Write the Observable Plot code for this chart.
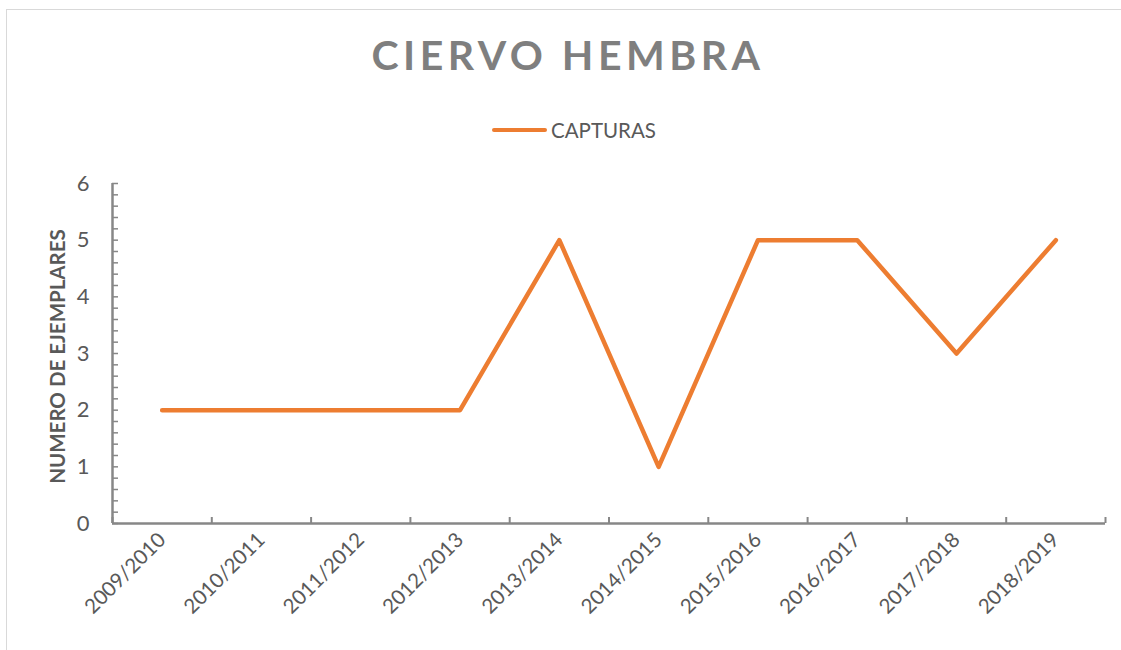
<!DOCTYPE html>
<html>
<head>
<meta charset="utf-8">
<script src="https://cdn.jsdelivr.net/npm/d3@7"></script>
<script src="https://cdn.jsdelivr.net/npm/@observablehq/plot@0.6"></script>
<style>
  html, body { margin: 0; padding: 0; background: #fff; }
  #wrap { position: relative; width: 1121px; height: 650px; overflow: hidden; font-family: Lato, "Open Sans", sans-serif; }
  #border { position: absolute; left: 6px; top: 9px; width: 1130px; height: 660px; border: 1.5px solid #d9d9d9; box-sizing: border-box; }
  #title { position: absolute; left: 0; top: 34px; width: 1136px; text-align: center; font-size: 41px; font-weight: 700; letter-spacing: 4.5px; color: #7f7f7f; line-height: 1; }
  #legend { position: absolute; left: 492px; top: 118px; height: 24px; display: flex; align-items: center; color: #595959; font-size: 20.5px; }
  #legend .sw { width: 55px; height: 4px; border-radius: 2px; background: #ED7D31; margin-right: 4px; }
  #chart { position: absolute; left: 0; top: 0; }
</style>
</head>
<body>
<div id="wrap">
  <div id="border"></div>
  <div id="title"></div>
  <div id="legend"><div class="sw"></div><span id="legtext"></span></div>
  <div id="chart"></div>
</div>
<script>
const titleText = "CIERVO HEMBRA";
const seriesName = "CAPTURAS";
const yLabel = "NUMERO DE EJEMPLARES";
const categories = ["2009/2010","2010/2011","2011/2012","2012/2013","2013/2014","2014/2015","2015/2016","2016/2017","2017/2018","2018/2019"];
const capturas = [2, 2, 2, 2, 5, 1, 5, 5, 3, 5];
const yTicks = [0, 1, 2, 3, 4, 5, 6];

document.getElementById("title").textContent = titleText;
document.getElementById("legtext").textContent = seriesName;

const data = categories.map((c, i) => ({i, cat: c, v: capturas[i]}));
const boundaries = d3.range(-0.5, categories.length, 1);
const minor = d3.range(0, 30.5, 1).map(d => d / 5);
const axisColor = "#878787";
const textColor = "#595959";

const chart = Plot.plot({
  width: 1121,
  height: 650,
  marginLeft: 112,
  marginRight: 16,
  marginTop: 183,
  marginBottom: 127,
  style: {fontFamily: "Lato, 'Open Sans', sans-serif", background: "transparent", overflow: "visible"},
  x: {type: "linear", domain: [-0.5, categories.length - 0.5]},
  y: {domain: [0, 6]},
  marks: [
    // y axis tick marks (inside)
    Plot.axisY({anchor: "left", ticks: minor, tickSize: 6, dx: 6, stroke: axisColor, strokeWidth: 1.5, tickFormat: () => "", label: null}),
    // x axis tick marks (inside)
    Plot.axisX({anchor: "bottom", ticks: boundaries, tickSize: 6, dy: -6, stroke: axisColor, strokeWidth: 2, tickFormat: () => "", label: null}),
    // axis lines
    Plot.ruleX([-0.5], {y1: 0, y2: 6, stroke: axisColor, strokeWidth: 2.5}),
    Plot.ruleY([0], {x1: -0.5, x2: categories.length - 0.5, stroke: axisColor, strokeWidth: 2.5}),
    // y labels
    Plot.axisY({anchor: "left", ticks: yTicks, tickFormat: d => String(d), tickSize: 0, tickPadding: 23, fontSize: 22, fill: textColor, label: null}),
    // x labels
    Plot.axisX({anchor: "bottom", ticks: d3.range(categories.length), tickFormat: i => categories[i], tickRotate: -45, tickSize: 0, tickPadding: 13, fontSize: 20.5, fill: textColor, label: null}),
    // y title
    Plot.text([yLabel], {frameAnchor: "left", textAnchor: "middle", dx: -54, dy: 3, rotate: -90, fontSize: 20.5, fontWeight: "bold", fill: textColor}),
    // series line
    Plot.line(data, {x: "i", y: "v", stroke: "#ED7D31", strokeWidth: 4.5, strokeLinejoin: "round", strokeLinecap: "round"})
  ]
});
document.getElementById("chart").appendChild(chart);
</script>
</body>
</html>
